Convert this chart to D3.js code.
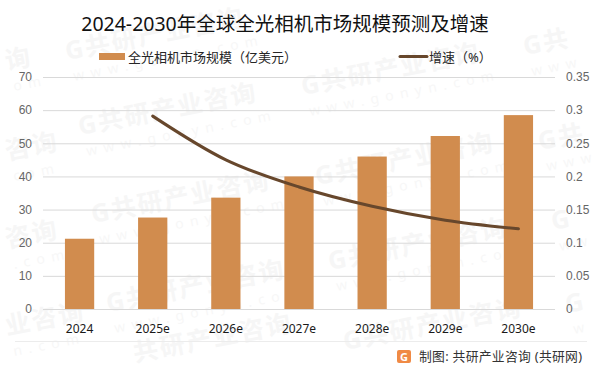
<!DOCTYPE html>
<html>
<head>
<meta charset="utf-8">
<script src="https://cdn.jsdelivr.net/npm/d3@7"></script>
<style>
  html, body { margin: 0; padding: 0; background: #fff; }
  text { font-family: "Noto Sans", "Noto Sans CJK SC", sans-serif; }
</style>
</head>
<body>
<svg id="chart"></svg>
<script>
var years = ["2024", "2025e", "2026e", "2027e", "2028e", "2029e", "2030e"];
var market_size = [21.2, 27.6, 33.6, 40, 46, 52.2, 58.5];
var growth = [null, 0.291, 0.225, 0.184, 0.155, 0.134, 0.121];
var left_ticks = [0, 10, 20, 30, 40, 50, 60, 70];
var right_ticks = [0, 0.05, 0.1, 0.15, 0.2, 0.25, 0.3, 0.35];

var width = 601, height = 373;
var margin = {top: 77, right: 46, bottom: 64, left: 43};

var svg = d3.select("#chart")
    .attr("width", width)
    .attr("height", height)
    .style("display", "block");

var x = d3.scaleBand().domain(years).range([margin.left, width - margin.right]).paddingInner(0.6).paddingOuter(0.3),
    y = d3.scaleLinear().domain([0, 70]).range([height - margin.bottom, margin.top]),
    y2 = d3.scaleLinear().domain([0, 0.35]).range([height - margin.bottom, margin.top]);

// watermark, the ones at the edges only show the part that fits
var full = "G共研产业咨询", url = "www.gonyn.com";
var mark_spots = [
  [67, 60, full, url], [525, 55, "G共", "www"],
  [80, 135, full, url], [303, 95, full, url], [540, 150, "G共", "www"],
  [93, 223, full, url], [317, 185, full, url], [553, 230, "G", "ww"],
  [108, 312, full, url], [330, 270, full, url], [567, 313, "G", "w"],
  [345, 350, full, ""], [135, 362, "共研产业咨询", ""],
  [7, 70, "询", "om"], [7, 160, "咨询", "com"], [7, 248, "咨询", ".com"], [7, 335, "业咨询", "n.com"]
];
var marks = svg.append("g").attr("class", "watermark");
var mark = marks.selectAll("g")
    .data(mark_spots)
  .enter().append("g")
    .attr("transform", function(d) { return "translate(" + d[0] + "," + d[1] + ")rotate(-11)"; });
mark.append("text")
    .attr("font-size", 25)
    .attr("font-weight", 700)
    .attr("letter-spacing", 2)
    .attr("fill", "#f6f6f6")
    .text(function(d) { return d[2]; });
mark.append("text")
    .attr("x", 3)
    .attr("y", 22)
    .attr("font-size", 14)
    .attr("letter-spacing", 6.5)
    .attr("fill", "#f7f7f7")
    .text(function(d) { return d[3]; });

// grid
svg.append("g")
  .selectAll("line")
    .data(left_ticks)
  .enter().append("line")
    .attr("x1", margin.left)
    .attr("x2", width - margin.right)
    .attr("y1", function(d) { return y(d) + 0.5; })
    .attr("y2", function(d) { return y(d) + 0.5; })
    .attr("stroke", "#d9d9d9")
    .attr("stroke-width", 1);

// bars
svg.append("g")
  .selectAll("rect")
    .data(market_size)
  .enter().append("rect")
    .attr("x", function(d, i) { return x(years[i]); })
    .attr("y", function(d) { return y(d); })
    .attr("width", x.bandwidth())
    .attr("height", function(d) { return y(0) - y(d); })
    .attr("fill", "#d18c4e");

// growth line
var line = d3.line()
    .defined(function(d) { return d != null; })
    .x(function(d, i) { return x(years[i]) + x.bandwidth() / 2; })
    .y(function(d) { return y2(d); })
    .curve(d3.curveMonotoneX);

svg.append("path")
    .datum(growth)
    .attr("fill", "none")
    .attr("stroke", "#67472c")
    .attr("stroke-width", 3)
    .attr("stroke-linecap", "round")
    .attr("d", line);

// axes
var y_axis = d3.axisLeft(y).tickValues(left_ticks).tickSize(0).tickPadding(11);
var y2_axis = d3.axisRight(y2).tickValues(right_ticks).tickSize(0).tickPadding(11).tickFormat(function(d) { return String(d); });
var x_axis = d3.axisBottom(x).tickSize(0).tickPadding(15);

var g_left = svg.append("g").attr("transform", "translate(" + margin.left + ",0)").call(y_axis);
var g_right = svg.append("g").attr("transform", "translate(" + (width - margin.right) + ",0)").call(y2_axis);
var g_bottom = svg.append("g").attr("transform", "translate(0," + y(0) + ")").call(x_axis);

[g_left, g_right].forEach(function(g) {
  g.select(".domain").remove();
  g.selectAll("text").attr("font-size", 12).attr("fill", "#666").style("font-family", "'Liberation Sans'");
});
g_bottom.select(".domain").remove();
g_bottom.selectAll("text").attr("font-size", 12).attr("fill", "#1a1a1a");

// title
svg.append("text")
    .attr("x", 285)
    .attr("y", 31)
    .attr("text-anchor", "middle")
    .attr("font-size", 19.5)
    .attr("fill", "#111")
    .text("2024-2030年全球全光相机市场规模预测及增速");

// legend
svg.append("rect").attr("x", 99).attr("y", 53).attr("width", 26).attr("height", 7).attr("fill", "#d18c4e");
svg.append("text").attr("x", 128).attr("y", 62).attr("font-size", 13).attr("fill", "#262626").text("全光相机市场规模（亿美元）");
svg.append("line").attr("x1", 400).attr("x2", 427).attr("y1", 56.5).attr("y2", 56.5)
    .attr("stroke", "#67472c").attr("stroke-width", 3).attr("stroke-linecap", "round");
svg.append("text").attr("x", 429).attr("y", 62).attr("font-size", 13).attr("fill", "#262626").text("增速（%）");

// footer
svg.append("line").attr("x1", 15).attr("x2", 587).attr("y1", 341.5).attr("y2", 341.5).attr("stroke", "#ececec");
svg.append("rect").attr("x", 397).attr("y", 350).attr("width", 14).attr("height", 13).attr("rx", 2).attr("fill", "#f08a45");
svg.append("text").attr("x", 404).attr("y", 361).attr("text-anchor", "middle").attr("font-size", 11).attr("font-weight", 700).attr("fill", "#fff").text("G");
svg.append("text").attr("x", 419).attr("y", 361).attr("font-size", 12.8).attr("letter-spacing", 0.3).attr("fill", "#333").text("制图: 共研产业咨询 (共研网)");
</script>
</body>
</html>
